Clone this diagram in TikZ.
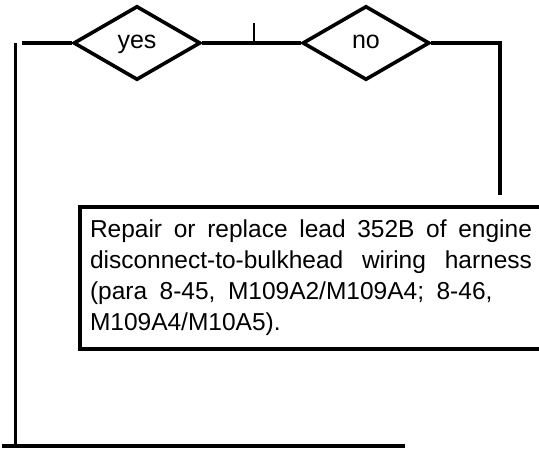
\documentclass[tikz,border=0pt]{standalone}
\usepackage{fontspec}
\setmainfont{Liberation Sans}
\usetikzlibrary{shapes.geometric}

\begin{document}
\begin{tikzpicture}[x=1pt,y=-1pt,
  flow/.style={line width=3.6pt},
  choice/.style={draw,diamond,line width=3.6pt,minimum width=127pt,minimum height=74pt,inner sep=0pt,
    text height=12pt,text depth=1.4pt,font=\fontsize{25}{28}\selectfont}]
\useasboundingbox (0,0) rectangle (539,449);
\node [choice] (yes) at (137,43) {yes};
\node [choice] (no) at (366,43) {no};
\node [draw, line width=4pt, anchor=north west, text width=442pt, inner xsep=10pt, inner ysep=0pt,
  minimum height=142pt, align=justify, font=\fontsize{24.5}{31}\selectfont] (fix) at (78,205)
  {Repair or replace lead 352B of engine\linebreak
   disconnect-to-bulkhead wiring harness\linebreak
   {\spaceskip=12.5pt (para 8-45, M109A2/M109A4; 8-46,}\newline
   M109A4/M10A5).};
\coordinate (inl) at (22,43);
\coordinate (tick) at (254,23);
\coordinate (tickb) at (254,43);
\coordinate (nocorner) at (500,43);
\coordinate (noend) at (500,195);
\coordinate (lefttop) at (15,43);
\coordinate (leftbot) at (15,446);
\coordinate (botl) at (2,446);
\coordinate (botr) at (405,446);
\draw [flow] (inl) -- (yes.west);
\draw [flow] (yes.east) -- (no.west);
\draw [line width=1.3pt] (tick) -- (tickb);
\draw [flow] (no.east) -- (nocorner) -- (noend);
\draw [line width=3pt] (lefttop) -- (leftbot);
\draw [flow] (botl) -- (botr);
\end{tikzpicture}
\end{document}
